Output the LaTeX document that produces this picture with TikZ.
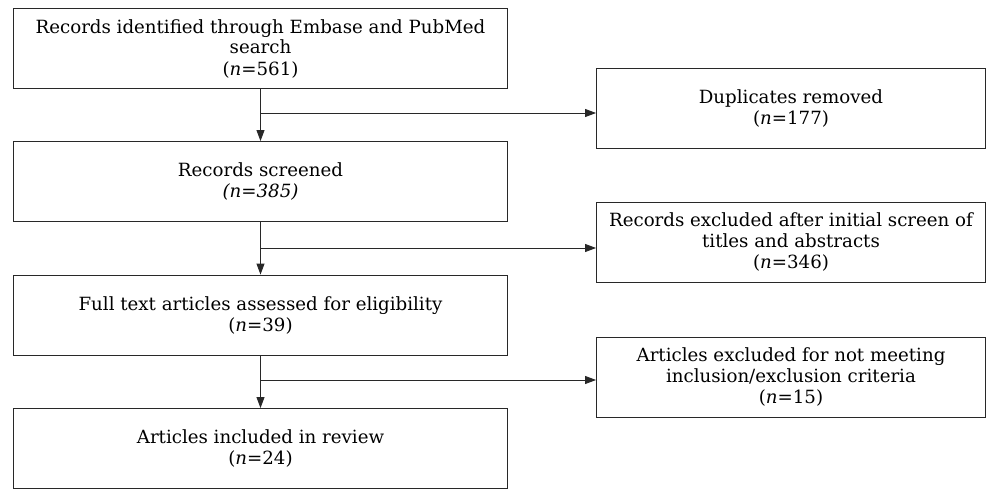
\documentclass[tikz,border=0pt]{standalone}
\usepackage{fontspec}
\setmainfont{DejaVu Serif}
\usepackage{tikz}
\usetikzlibrary{arrows.meta, positioning, calc}
\definecolor{Borde}{RGB}{40,40,40}

\begin{document}
\begin{tikzpicture}[
      x=1pt, y=-1pt,
      caja/.style ={draw=Borde,line width=0.9pt,fill=white,text=black,
                    minimum width=494pt,minimum height=80pt,
                    font=\fontsize{18.2}{21}\selectfont,align=center,inner sep=0pt},
      cajad/.style={caja,minimum width=389pt},
      fl/.style   ={-{Triangle[length=11pt,width=8pt]},Borde,line width=0.9pt}]
      \useasboundingbox (0,0) rectangle (987,488);
      \node[caja]  (iden)  at (260.5, 48.5){Records identified through Embase and PubMed\\search\\(\textit{n}=561)};
      \node[caja]  (scr)   at (260.5,181.5){Records screened\\\textit{(n=385)}};
      \node[caja]  (full)  at (260.5,315.0){Full text articles assessed for eligibility\\(\textit{n}=39)};
      \node[caja]  (incl)  at (260.5,448.5){Articles included in review\\(\textit{n}=24)};
      \node[cajad] (dup)   at (791.0,108.0){Duplicates removed\\(\textit{n}=177)};
      \node[cajad] (excl)  at (791.0,242.0){Records excluded after initial screen of\\titles and abstracts\\(\textit{n}=346)};
      \node[cajad] (crit)  at (791.0,377.0){Articles excluded for not meeting\\inclusion/exclusion criteria\\(\textit{n}=15)};
      \foreach \a/\b in {iden/scr,scr/full,full/incl}
        \draw[fl] (\a)--(\b);
      \coordinate (r1) at (260.5,113);
      \coordinate (r2) at (260.5,248);
      \coordinate (r3) at (260.5,380);
      \foreach \c/\d in {r1/dup,r2/excl,r3/crit}
        \draw[fl] (\c)--(\c -| \d.west);
    \end{tikzpicture}
\end{document}
